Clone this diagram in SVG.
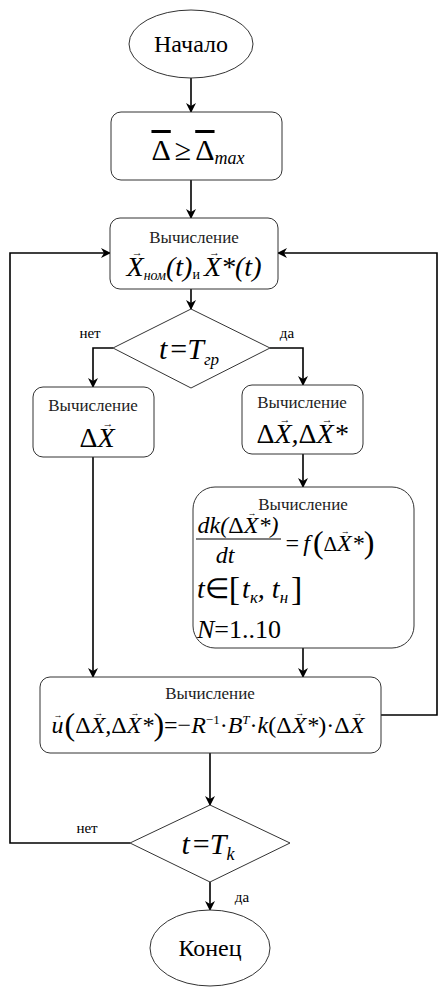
<svg xmlns="http://www.w3.org/2000/svg" width="439" height="990" viewBox="0 0 439 990" font-family="'Liberation Serif', serif">
<defs>
<marker id="ah" markerWidth="10" markerHeight="10" refX="9" refY="5" orient="auto" markerUnits="userSpaceOnUse">
<path d="M0,0 L10,5 L0,10 L3,5 Z" fill="#000"/>
</marker>
</defs>
<style>
.node{fill:#fff;stroke:#333;stroke-width:1}
.c{fill:none;stroke:#000;stroke-width:1.6;marker-end:url(#ah)}
text,tspan{font-family:"Liberation Serif","Times New Roman",serif}
text{fill:#000}
.lbl{font-size:15px;text-anchor:middle}
.cap{font-size:17px;text-anchor:middle;fill:#222}
.m{font-style:italic;text-anchor:middle}
.u{font-style:normal}
.ov{text-decoration:overline;font-style:normal}
.va{font-style:normal;font-size:11px}
.vs{font-style:normal;font-size:9px}
</style>
<rect width="439" height="990" fill="#fff"/>
<g id="connectors">
<path class="c" d="M191,78 V112"/>
<path class="c" d="M191,180 V218"/>
<path class="c" d="M191,289 V309"/>
<path class="c" d="M113,348 H93 V387"/>
<path class="c" d="M270,348 H303 V385"/>
<path class="c" d="M303,454 V487"/>
<path class="c" d="M93,457 V677"/>
<path class="c" d="M303,648 V677"/>
<path class="c" d="M210,753 V805"/>
<path class="c" d="M210,882 V910"/>
<path class="c" d="M381,715 H437 V253 H278"/>
<path class="c" d="M130,843 H10 V253 H110"/>
<text class="lbl" x="90" y="338">нет</text>
<text class="lbl" x="287" y="338">да</text>
<text class="lbl" x="87" y="833">нет</text>
<text class="lbl" x="242" y="902">да</text>
</g>
<g id="start">
<ellipse class="node" cx="191" cy="44" rx="62" ry="34"/>
<text x="191" y="52" font-size="24" text-anchor="middle">Начало</text>
</g>
<g id="init">
<rect class="node" x="111" y="112" width="171" height="68" rx="10"/>
<text class="m" x="198" y="160" font-size="30"><tspan class="ov">Δ</tspan><tspan class="u" dx="4">≥</tspan><tspan class="ov" dx="4">Δ</tspan><tspan font-size="18" dy="4">max</tspan></text>
</g>
<g id="calc-x">
<rect class="node" x="110" y="218" width="168" height="71" rx="10"/>
<text class="cap" x="194" y="243">Вычисление</text>
<text class="m" x="194" y="276" font-size="28">X<tspan class="va" dx="-12" dy="-20">→</tspan><tspan font-size="14" dx="1" dy="24">ном</tspan><tspan dy="-4">(t)</tspan><tspan class="u" font-size="14" dy="3">и</tspan><tspan dx="4" dy="-3">X</tspan><tspan class="va" dx="-12" dy="-20">→</tspan><tspan dx="1" dy="20">*(t)</tspan></text>
</g>
<g id="cond-tgr">
<polygon class="node" points="191,309 270,348 191,388 113,348"/>
<text class="m" x="189" y="359" font-size="30">t<tspan class="u" dx="3">=</tspan>T<tspan font-size="17" dy="6">гр</tspan></text>
</g>
<g id="calc-dx">
<rect class="node" x="33" y="387" width="121" height="70" rx="10"/>
<text class="cap" x="93" y="411">Вычисление</text>
<text class="m" x="97" y="447" font-size="28"><tspan class="u">Δ</tspan>X<tspan class="va" dx="-12" dy="-20">→</tspan></text>
</g>
<g id="calc-dx2">
<rect class="node" x="242" y="385" width="121" height="69" rx="10"/>
<text class="cap" x="302" y="408">Вычисление</text>
<text class="m" x="302" y="443" font-size="28"><tspan class="u">Δ</tspan>X<tspan class="va" dx="-12" dy="-20">→</tspan><tspan dx="1" dy="20">,</tspan><tspan class="u">Δ</tspan>X<tspan class="va" dx="-12" dy="-20">→</tspan><tspan dx="1" dy="20">*</tspan></text>
</g>
<g id="calc-k">
<rect class="node" x="193" y="487" width="221" height="161" rx="22"/>
<text class="cap" x="303" y="510">Вычисление</text>
<text class="m" x="238" y="533" font-size="24">dk(<tspan class="u">Δ</tspan>X<tspan class="vs" dx="-11" dy="-17">→</tspan><tspan dx="2" dy="17">*)</tspan></text>
<line x1="196" y1="539" x2="281" y2="539" stroke="#000" stroke-width="1.2"/>
<text class="m" x="225" y="563" font-size="24">dt</text>
<text x="284" y="551" font-size="24" font-style="italic">=<tspan dx="3">f</tspan><tspan font-style="normal" font-size="32" dx="3" dy="2">(</tspan><tspan font-style="normal" dy="-2" font-size="21">Δ</tspan>X<tspan class="vs" dx="-11" dy="-17">→</tspan><tspan dx="2" dy="17">*</tspan><tspan font-style="normal" font-size="32" dy="2">)</tspan></text>
<text x="197" y="598" font-size="28" font-style="italic">t<tspan font-style="normal">∈</tspan><tspan font-style="normal" font-size="34" dy="2">[</tspan><tspan dx="2" dy="-2">t</tspan><tspan font-size="17" dy="5">к</tspan><tspan dy="-5">, t</tspan><tspan font-size="17" dy="5">н</tspan><tspan font-style="normal" font-size="34" dx="3" dy="-3">]</tspan></text>
<text x="197" y="638" font-size="26" font-style="italic">N<tspan font-style="normal">=1..10</tspan></text>
</g>
<g id="calc-u">
<rect class="node" x="40" y="677" width="341" height="76" rx="10"/>
<text class="cap" x="210" y="699">Вычисление</text>
<text x="208" y="733" font-size="24" font-style="italic" text-anchor="middle">u<tspan class="vs" dx="-10" dy="-15">→</tspan><tspan font-style="normal" font-size="32" dx="2" dy="17">(</tspan><tspan font-style="normal" dy="-2">Δ</tspan>X<tspan class="vs" dx="-11" dy="-17">→</tspan><tspan dx="2" dy="17">,</tspan><tspan font-style="normal">Δ</tspan>X<tspan class="vs" dx="-11" dy="-17">→</tspan><tspan dx="2" dy="17">*</tspan><tspan font-style="normal" font-size="32" dy="2">)</tspan><tspan font-style="normal" dy="-2">=−</tspan>R<tspan font-size="13" dy="-9" font-style="normal">−1</tspan><tspan dy="9" font-style="normal">·</tspan>B<tspan font-size="13" dy="-9">T</tspan><tspan dy="9" font-style="normal">·</tspan>k<tspan font-style="normal">(Δ</tspan>X<tspan class="vs" dx="-11" dy="-17">→</tspan><tspan dx="2" dy="17">*</tspan><tspan font-style="normal">)·Δ</tspan>X<tspan class="vs" dx="-11" dy="-17">→</tspan></text>
</g>
<g id="cond-tk">
<polygon class="node" points="210,805 290,843 210,882 130,843"/>
<text class="m" x="208" y="854" font-size="30">t<tspan class="u" dx="3">=</tspan>T<tspan font-size="18" dy="6">k</tspan></text>
</g>
<g id="end">
<ellipse class="node" cx="210" cy="948" rx="60" ry="38"/>
<text x="210" y="956" font-size="24" text-anchor="middle">Конец</text>
</g>
</svg>
